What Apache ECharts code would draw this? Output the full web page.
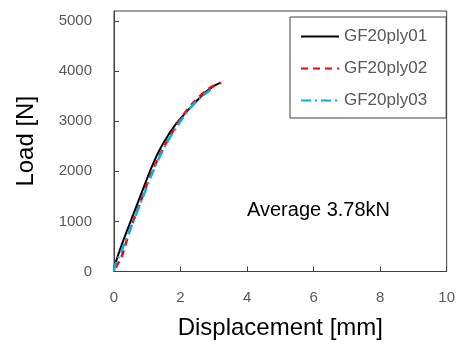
<!DOCTYPE html>
<html><head><meta charset="utf-8">
<script src="https://cdn.jsdelivr.net/npm/echarts@6/dist/echarts.min.js"></script>
<style>html,body{margin:0;padding:0;background:#fff}#c{width:458px;height:347px}</style>
</head><body><div id="c"></div>
<script>
var seriesNames = ['GF20ply01', 'GF20ply02', 'GF20ply03'];
var xTicks = [0, 2, 4, 6, 8, 10];
var yTicks = [0, 1000, 2000, 3000, 4000, 5000];
var disp01 = [0, 0.02, 0.28, 0.58, 0.88, 1.18, 1.48, 1.88, 2.28, 2.67, 2.95, 3.2];
var load01 = [0, 120, 620, 1140, 1660, 2160, 2560, 2960, 3260, 3530, 3680, 3770];
var disp02 = [0.05, 0.23, 0.48, 0.78, 1.08, 1.38, 1.68, 1.98, 2.37, 2.87, 3.22];
var load02 = [80, 300, 830, 1360, 1900, 2330, 2700, 3030, 3360, 3660, 3770];
var disp03 = [0, 0.02, 0.28, 0.58, 0.9, 1.2, 1.58, 1.93, 2.28, 2.6, 2.9];
var load03 = [0, 100, 500, 1000, 1540, 2040, 2560, 2930, 3260, 3470, 3630];
var annotation = 'Average 3.78kN';

function pairs(xs, ys) { return xs.map(function (x, i) { return [x, ys[i]]; }); }

var chart = echarts.init(document.getElementById('c'));
chart.setOption({
  animation: false,
  grid: { left: 114, right: 10, top: 11, bottom: 75.5, show: true, borderColor: '#404040', borderWidth: 1, backgroundColor: 'transparent' },
  xAxis: {
    type: 'value', min: xTicks[0], max: xTicks[xTicks.length - 1], interval: 2,
    name: 'Displacement [mm]', nameLocation: 'middle', nameGap: 45,
    nameTextStyle: { fontSize: 24, color: '#000', fontFamily: 'Liberation Sans' },
    axisLine: { lineStyle: { color: '#404040' } },
    axisTick: { inside: true, length: 5, lineStyle: { color: '#404040' } },
    axisLabel: { fontSize: 15, color: '#595959', margin: 19, fontFamily: 'Liberation Sans', formatter: function (v) { return String(v); } },
    splitLine: { show: false }
  },
  yAxis: {
    type: 'value', min: yTicks[0], max: 5200, interval: 1000,
    name: 'Load [N]', nameLocation: 'middle', nameGap: 76,
    nameTextStyle: { fontSize: 24, color: '#000', fontFamily: 'Liberation Sans' },
    axisLine: { lineStyle: { color: '#404040' } },
    axisTick: { inside: true, length: 5, lineStyle: { color: '#404040' } },
    axisLabel: { fontSize: 15, color: '#595959', margin: 22, showMaxLabel: false, fontFamily: 'Liberation Sans', formatter: function (v) { return String(v); } },
    splitLine: { show: false }
  },
  legend: {
    data: seriesNames, orient: 'vertical', left: 290, top: 17,
    padding: [11, 19, 9, 10], itemGap: 15, itemWidth: 38, itemHeight: 16,
    borderColor: '#404040', borderWidth: 1,
    itemStyle: { opacity: 0 },
    textStyle: { fontSize: 17, color: '#595959', fontFamily: 'Liberation Sans' }
  },
  graphic: [{ type: 'text', left: 247, top: 200, style: { text: annotation, fontSize: 20, fill: '#000', fontFamily: 'Liberation Sans' } }],
  series: [
    { name: seriesNames[0], type: 'line', data: pairs(disp01, load01), symbol: 'none', smooth: 0.3, lineStyle: { color: '#000', width: 2 }, itemStyle: { color: '#000' }, z: 3 },
    { name: seriesNames[1], type: 'line', data: pairs(disp02, load02), symbol: 'none', smooth: 0.3, lineStyle: { color: '#ff0000', width: 2.5, type: [7, 5] }, itemStyle: { color: '#ff0000' }, z: 4 },
    { name: seriesNames[2], type: 'line', data: pairs(disp03, load03), symbol: 'none', smooth: 0.3, lineStyle: { color: '#00b0f0', width: 2.5, type: [10, 4, 2, 4] }, itemStyle: { color: '#00b0f0' }, z: 5 }
  ]
});
</script></body></html>
